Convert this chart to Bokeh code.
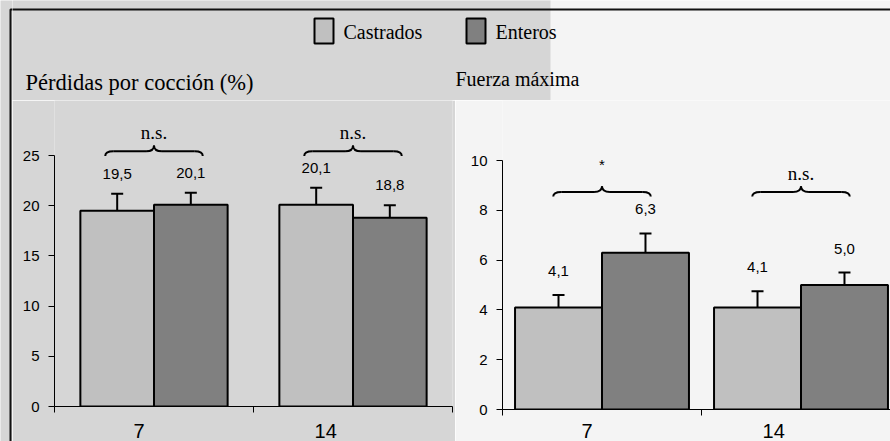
from bokeh.plotting import figure
from bokeh.models import (ColumnDataSource, Whisker, TeeHead, Label, FixedTicker,
                          BoxAnnotation, Range1d)
from bokeh.layouts import row, column
from bokeh.core.properties import value
from bokeh.embed import file_html
from bokeh.resources import INLINE

# ---------------- data ----------------
categories = ["7", "14"]
series = ["Castrados", "Enteros"]

coc_title = "Pérdidas por cocción (%)"
coc_castrados = [19.5, 20.1]
coc_enteros = [20.1, 18.8]
coc_castrados_err = [1.7, 1.7]
coc_enteros_err = [1.2, 1.25]
coc_signif = ["n.s.", "n.s."]
coc_ticks = [0, 5, 10, 15, 20, 25]

fza_title = "Fuerza máxima"
fza_castrados = [4.1, 4.1]
fza_enteros = [6.3, 5.0]
fza_castrados_err = [0.5, 0.65]
fza_enteros_err = [0.77, 0.5]
fza_signif = ["*", "n.s."]
fza_ticks = [0, 2, 4, 6, 8, 10]

# ---------------- style ----------------
C_LIGHT = "#c0c0c0"
C_DARK = "#808080"
BG_GREY = "#d6d6d6"
BG_LIGHT = "#f4f4f4"
FRAME = "#111111"
SERIF = "Liberation Serif"
SANS = "Liberation Sans"
W, HT = 890, 441
STRIP_W = 12
TOP_H = 100
H = HT - TOP_H
X_LABEL_SHIFT = [-0.075, -0.137]   # category labels sit a little left of the group centres


def fmt(v):
    return f"{v:.1f}".replace(".", ",")


def panel(width, bl, br, bb, x_end, y_end, ticks, cast, ent, cast_err, ent_err,
          sig, bar_w, lab_off, brace_yb, brace_h, bg, label_standoff_x):
    p = figure(width=width, height=H, x_range=Range1d(0, x_end), y_range=Range1d(0, y_end),
               output_backend="svg", toolbar_location=None,
               min_border_left=bl, min_border_right=br, min_border_top=0, min_border_bottom=bb,
               background_fill_color=bg, border_fill_color=bg, outline_line_color=None)
    p.xgrid.visible = False
    p.ygrid.visible = False
    n = len(categories)
    xc = [i + 0.5 for i in range(n)]
    x_c = [x - bar_w / 2 for x in xc]
    x_e = [x + bar_w / 2 for x in xc]
    p.vbar(x=x_c, top=cast, width=bar_w, fill_color=C_LIGHT, line_color="black", line_width=2)
    p.vbar(x=x_e, top=ent, width=bar_w, fill_color=C_DARK, line_color="black", line_width=2)

    xs = x_c + x_e
    vals = cast + ent
    errs = cast_err + ent_err
    src = ColumnDataSource(dict(x=xs, upper=[v + e for v, e in zip(vals, errs)],
                                lower=[v - e for v, e in zip(vals, errs)]))
    w = Whisker(source=src, base="x", upper="upper", lower="lower",
                line_width=2, line_color="black",
                upper_head=TeeHead(size=12, line_width=2, line_color="black"),
                lower_head=TeeHead(size=12, line_width=2, line_color="black"))
    p.add_layout(w)

    p.text(x=xs, y=[v + e for v, e in zip(vals, errs)], text=[fmt(v) for v in vals],
           text_align="center", text_baseline="middle", y_offset=-lab_off,
           text_font=value(SANS), text_font_size="15px", text_color="black")

    # braces
    hw, r = 0.245, 0.04
    ym = brace_yb + brace_h * 0.45
    yt = brace_yb + brace_h
    q = dict(x0=[], y0=[], x1=[], y1=[], cx=[], cy=[])
    s = dict(x0=[], y0=[], x1=[], y1=[])

    def addq(a, b, c, d, e, f):
        q["x0"].append(a); q["y0"].append(b); q["x1"].append(c); q["y1"].append(d)
        q["cx"].append(e); q["cy"].append(f)

    for xm in xc:
        xa, xb = xm - hw, xm + hw
        addq(xa, brace_yb, xa + r, ym, xa, ym)
        addq(xm - r, ym, xm, yt, xm, ym)
        addq(xm, yt, xm + r, ym, xm, ym)
        addq(xb - r, ym, xb, brace_yb, xb, ym)
        s["x0"] += [xa + r, xm + r]; s["y0"] += [ym, ym]
        s["x1"] += [xm - r, xb - r]; s["y1"] += [ym, ym]
    p.quadratic(source=ColumnDataSource(q), x0="x0", y0="y0", x1="x1", y1="y1", cx="cx", cy="cy",
                line_color="black", line_width=2)
    p.segment(source=ColumnDataSource(s), x0="x0", y0="y0", x1="x1", y1="y1",
              line_color="black", line_width=2)

    fonts = [SANS if t == "*" else SERIF for t in sig]
    sizes = ["15px" if t == "*" else "19px" for t in sig]
    offs = [-22 if t == "*" else -13 for t in sig]
    bases = ["middle" if t == "*" else "alphabetic" for t in sig]
    p.text(x=xc, y=[yt] * n, text=sig, text_align="center",
           text_baseline=bases, y_offset=offs,
           text_font=fonts, text_font_size=sizes, text_color="black")

    # axes
    lab_x = [x + d for x, d in zip(xc, X_LABEL_SHIFT)]
    p.xaxis.ticker = FixedTicker(ticks=lab_x, minor_ticks=[float(i) for i in range(n + 1)])
    p.xaxis.major_label_overrides = {x: c for x, c in zip(lab_x, categories)}
    p.xaxis.major_tick_in = 0
    p.xaxis.major_tick_out = 0
    p.xaxis.minor_tick_in = 0
    p.xaxis.minor_tick_out = 6
    p.xaxis.minor_tick_line_color = "black"
    p.xaxis.major_label_standoff = label_standoff_x
    p.xaxis.major_label_text_font = SANS
    p.xaxis.major_label_text_font_size = "20px"
    p.xaxis.major_label_text_color = "black"
    p.xaxis.axis_line_color = "black"

    p.yaxis.ticker = FixedTicker(ticks=ticks, minor_ticks=[])
    p.yaxis.bounds = (ticks[0], ticks[-1])
    p.yaxis.major_tick_in = 0
    p.yaxis.major_tick_out = 6
    p.yaxis.major_tick_line_color = "black"
    p.yaxis.major_label_standoff = 9
    p.yaxis.major_label_text_font = SANS
    p.yaxis.major_label_text_font_size = "15px"
    p.yaxis.major_label_text_color = "black"
    p.yaxis.axis_line_color = "black"
    return p


# ---------- left strip with the frame's left line (full height) ----------
ps = figure(width=STRIP_W, height=HT, x_range=Range1d(0, STRIP_W), y_range=Range1d(0, HT),
            output_backend="svg", toolbar_location=None, x_axis_location=None, y_axis_location=None,
            min_border=0, background_fill_color=BG_GREY, border_fill_color=BG_GREY,
            outline_line_color=None)
ps.xgrid.visible = False
ps.ygrid.visible = False
ps.add_layout(BoxAnnotation(left=10, right=100, bottom=-10, top=HT - 9,
                            fill_alpha=0, line_color=FRAME, line_alpha=1, line_width=2))

# ---------- top band: legend, titles, frame top (data units = page pixels) ----------
p0 = figure(width=W - STRIP_W, height=TOP_H, x_range=Range1d(STRIP_W, W), y_range=Range1d(0, TOP_H),
            output_backend="svg", toolbar_location=None, x_axis_location=None, y_axis_location=None,
            min_border=0, background_fill_color=BG_LIGHT, border_fill_color=BG_LIGHT,
            outline_line_color=None)
p0.xgrid.visible = False
p0.ygrid.visible = False
p0.add_layout(BoxAnnotation(left=-10, right=550, bottom=-10, top=TOP_H + 10,
                            fill_color=BG_GREY, fill_alpha=1, line_color=None, level="underlay"))
p0.add_layout(BoxAnnotation(left=-50, right=2000, bottom=-50, top=TOP_H - 9,
                            fill_alpha=0, line_color=FRAME, line_alpha=1, line_width=2))

for sx, name, col in [(314, series[0], C_LIGHT), (466, series[1], C_DARK)]:
    p0.add_layout(BoxAnnotation(left=sx, right=sx + 19, top=TOP_H - 18, bottom=TOP_H - 43,
                                fill_color=col, fill_alpha=1, line_color="black",
                                line_alpha=1, line_width=2))
    p0.add_layout(Label(x=sx + 29, y=TOP_H - 31, text=name, text_align="left",
                        text_baseline="middle", text_font=SERIF, text_font_size="20px",
                        text_color="black"))

p0.add_layout(Label(x=25, y=TOP_H - 82, text=coc_title, text_align="left", text_baseline="middle",
                    text_font=SERIF, text_font_size="22.5px", text_color="black"))
p0.add_layout(Label(x=455, y=TOP_H - 78, text=fza_title, text_align="left", text_baseline="middle",
                    text_font=SERIF, text_font_size="20px", text_color="black"))

# ---------- charts ----------
# left: frame page x 54..452, y 100..406; 25 at page y 155
p1 = panel(width=443, bl=42, br=3, bb=35, x_end=2.0, y_end=306 / 251 * 25,
           ticks=coc_ticks, cast=coc_castrados, ent=coc_enteros,
           cast_err=coc_castrados_err, ent_err=coc_enteros_err, sig=coc_signif,
           bar_w=0.37, lab_off=20, brace_yb=24.95, brace_h=1.05, bg=BG_GREY,
           label_standoff_x=11)
# right: frame page x 502..890, y 100..409; 10 at page y 160
p2 = panel(width=435, bl=47, br=0, bb=32, x_end=388 / 199, y_end=309 / 249 * 10,
           ticks=fza_ticks, cast=fza_castrados, ent=fza_enteros,
           cast_err=fza_castrados_err, ent_err=fza_enteros_err, sig=fza_signif,
           bar_w=0.437, lab_off=24, brace_yb=8.55, brace_h=0.42, bg=BG_LIGHT,
           label_standoff_x=8)

layout = row(ps, column(p0, row(column(p1), column(p2), spacing=0), spacing=0), spacing=0)
open("out.html", "w").write(file_html(layout, INLINE))
